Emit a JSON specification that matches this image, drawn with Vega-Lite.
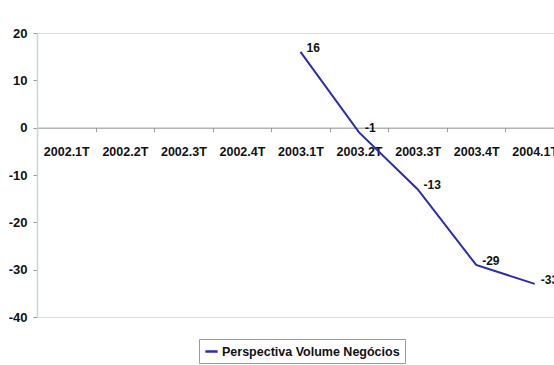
{
  "$schema": "https://vega.github.io/schema/vega-lite/v6.json",
  "autosize": {"type": "none"},
  "padding": {"left": 37, "top": 33, "right": -10, "bottom": 48},
  "width": 527,
  "height": 284,
  "background": "white",
  "config": {
    "font": "Liberation Sans, Arial",
    "view": {"stroke": "#d3e0e0", "strokeWidth": 1}
  },
  "data": {
    "values": [
      {"trimestre": "2003.1T", "valor": 16, "serie": "Perspectiva Volume Negócios"},
      {"trimestre": "2003.2T", "valor": -1, "serie": "Perspectiva Volume Negócios"},
      {"trimestre": "2003.3T", "valor": -13, "serie": "Perspectiva Volume Negócios"},
      {"trimestre": "2003.4T", "valor": -29, "serie": "Perspectiva Volume Negócios"},
      {"trimestre": "2004.1T", "valor": -33, "serie": "Perspectiva Volume Negócios"}
    ]
  },
  "encoding": {
    "x": {
      "field": "trimestre",
      "type": "ordinal",
      "sort": null,
      "scale": {
        "type": "band",
        "paddingInner": 0,
        "paddingOuter": 0,
        "domain": ["2002.1T", "2002.2T", "2002.3T", "2002.4T", "2003.1T", "2003.2T", "2003.3T", "2003.4T", "2004.1T"]
      },
      "axis": {
        "title": null,
        "orient": "bottom",
        "offset": {"expr": "scale('y', 0) - height"},
        "labelAngle": 0,
        "tickBand": "extent",
        "domainColor": "#8c8c8c",
        "tickColor": "#a0a0a0",
        "tickSize": 4,
        "labelPadding": 14,
        "labelFontWeight": "bold",
        "labelFontSize": 12.5,
        "labelColor": "#111111",
        "grid": false
      }
    },
    "y": {
      "field": "valor",
      "type": "quantitative",
      "scale": {"domain": [-40, 20], "nice": false, "zero": false},
      "axis": {
        "title": null,
        "values": [-40, -30, -20, -10, 0, 10, 20],
        "labelExpr": "datum.value + ''",
        "grid": false,
        "domainColor": "#c4d8dc",
        "domainWidth": 1.5,
        "tickColor": "#999999",
        "tickSize": 4,
        "labelPadding": 6,
        "labelFontWeight": "bold",
        "labelFontSize": 13,
        "labelColor": "#111111"
      }
    }
  },
  "layer": [
    {
      "mark": {"type": "line", "strokeWidth": 2},
      "encoding": {
        "color": {
          "field": "serie",
          "type": "nominal",
          "scale": {"range": ["#2b2bb5"]},
          "legend": {
            "title": null,
            "orient": "none",
            "legendX": 162,
            "legendY": 306,
            "direction": "horizontal",
            "symbolType": "stroke",
            "symbolStrokeWidth": 2.5,
            "symbolSize": 150,
            "labelFontWeight": "bold",
            "labelFontSize": 12.5,
            "labelColor": "#111111",
            "labelOffset": 3,
            "labelLimit": 0,
            "strokeColor": "#9a9a9a",
            "padding": 5,
            "fillColor": "white"
          }
        }
      }
    },
    {
      "mark": {
        "type": "text",
        "align": "left",
        "baseline": "middle",
        "dx": 6,
        "dy": -4,
        "fontWeight": "bold",
        "fontSize": 12,
        "color": "#111111"
      },
      "encoding": {"text": {"field": "valor", "type": "nominal"}}
    }
  ]
}
